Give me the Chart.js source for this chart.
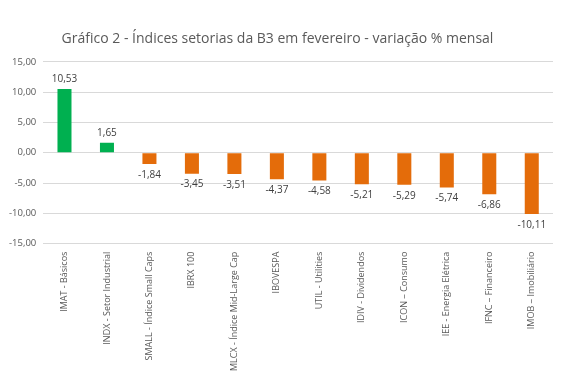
<!DOCTYPE html>
<html>
<head>
<meta charset="utf-8">
<script src="https://cdn.jsdelivr.net/npm/chart.js@4/dist/chart.umd.min.js"></script>
<style>
  html, body { margin: 0; padding: 0; background: #fff; }
  #wrap { width: 566px; height: 376px; position: relative; }
</style>
</head>
<body>
<div id="wrap"><canvas id="chart"></canvas></div>
<script>
// ─── Data ─────────────────────────────────────────────
const categories = [
  "IMAT - Básicos",
  "INDX - Setor Industrial",
  "SMALL - Índice Small Caps",
  "IBRX 100",
  "MLCX - Índice Mid-Large Cap",
  "IBOVESPA",
  "UTIL - Utilities",
  "IDIV - Dividendos",
  "ICON – Consumo",
  "IEE - Energia Elétrica",
  "IFNC – Financeiro",
  "IMOB – Imobiliário",
];
const variation = [10.53, 1.65, -1.84, -3.45, -3.51, -4.37, -4.58, -5.21, -5.29, -5.74, -6.86, -10.11];
const yTicks = [15, 10, 5, 0, -5, -10, -15];

const fmt = (v) => v.toFixed(2).replace(".", ",");

// value labels above / below each bar
const valueLabels = {
  id: "valueLabels",
  afterDatasetsDraw(chart) {
    const { ctx } = chart;
    const meta = chart.getDatasetMeta(0);
    ctx.save();
    ctx.font = "10px 'Open Sans', sans-serif";
    ctx.fillStyle = "#404040";
    ctx.textAlign = "center";
    ctx.textBaseline = "middle";
    meta.data.forEach((bar, i) => {
      const v = variation[i];
      const y = v >= 0 ? bar.y - 10 : bar.y + 11;
      ctx.fillText(fmt(v), bar.x, y);
    });
    ctx.restore();
  },
};

new Chart(document.getElementById("chart"), {
  type: "bar",
  data: {
    labels: categories,
    datasets: [{
      data: variation,
      backgroundColor: variation.map((v) => (v >= 0 ? "#00B050" : "#E46C0A")),
      barPercentage: 0.33,
      categoryPercentage: 1,
    }],
  },
  options: {
    responsive: true,
    maintainAspectRatio: false,
    animation: false,
    layout: { padding: { top: 31, right: 13, left: 2, bottom: 5 } },
    plugins: {
      legend: { display: false },
      tooltip: { enabled: false },
      title: {
        display: true,
        text: "Gráfico 2 - Índices setorias da B3 em fevereiro - variação % mensal",
        color: "#595959",
        font: { family: "'Open Sans', sans-serif", size: 14, weight: "normal" },
        padding: { top: 0, bottom: 14 },
      },
    },
    scales: {
      y: {
        min: -15,
        max: 15,
        afterBuildTicks: (axis) => { axis.ticks = yTicks.map((v) => ({ value: v })); },
        grid: { color: "#d9d9d9", drawTicks: false },
        border: { display: false },
        ticks: {
          color: "#595959",
          font: { family: "'Open Sans', sans-serif", size: 9.5 },
          padding: 7,
          callback: (v) => fmt(v),
        },
      },
      x: {
        grid: { display: false },
        border: { display: false },
        ticks: {
          color: "#595959",
          font: { family: "'Open Sans', sans-serif", size: 9 },
          maxRotation: 90,
          minRotation: 90,
          autoSkip: false,
          padding: 0,
        },
      },
    },
  },
  plugins: [valueLabels],
});
</script>
</body>
</html>
